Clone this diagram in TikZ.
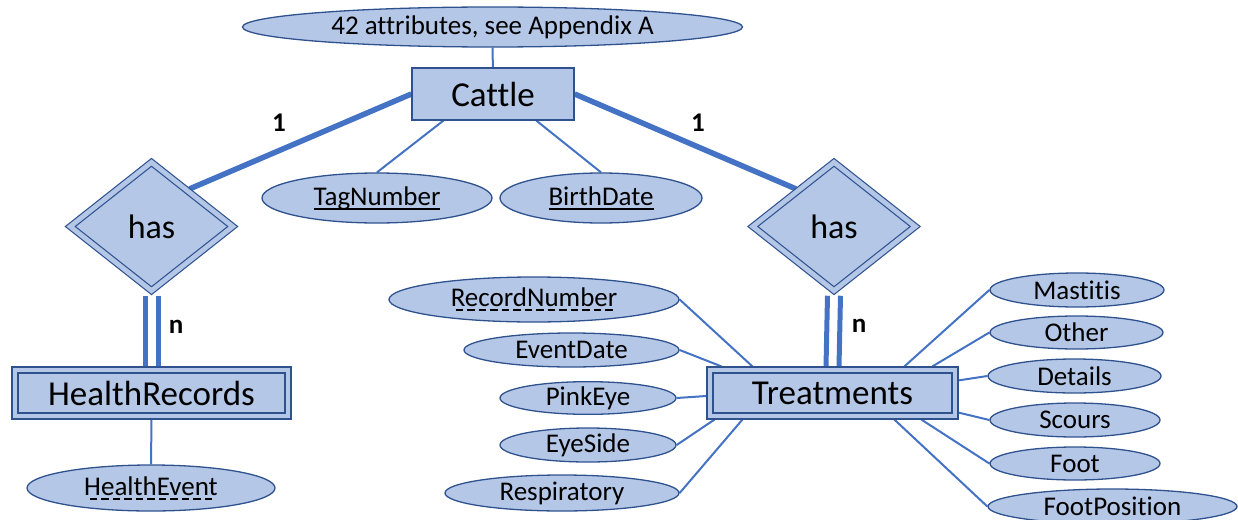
\documentclass[tikz,border=0pt]{standalone}
\usepackage{fontspec}
\setmainfont{Carlito}[Ligatures={NoCommon}]
\usetikzlibrary{shapes.geometric,backgrounds,calc}
\definecolor{fillc}{HTML}{B4C7E7}
\definecolor{bord}{HTML}{2F528F}
\definecolor{conn}{HTML}{4472C4}
\newcommand\ulsolid[1]{\setbox0\hbox{#1}\rlap{\rule[-4.5pt]{\wd0}{1.6pt}}\box0}
\newcommand\uldash[1]{\setbox0\hbox{#1}\rlap{\hbox to \wd0{\cleaders\hbox{\kern2pt\rule[-4.5pt]{7.5pt}{1.8pt}\kern2pt}\hfill}}\box0}
\tikzset{
  attr/.style={ellipse, draw=bord, fill=fillc, line width=1.3pt, inner sep=0pt, font=\fontsize{27}{31}\selectfont},
  entity/.style={rectangle, draw=bord, fill=fillc, line width=1.3pt, inner sep=0pt, font=\fontsize{35}{40}\selectfont},
  weakent/.style={rectangle, draw=bord, fill=fillc, double=fillc, double distance=4.8pt, line width=1.2pt, outer sep=3.6pt, inner sep=0pt, font=\fontsize{35}{40}\selectfont},
  rel/.style={diamond, aspect=1.26, draw=bord, fill=fillc, double=fillc, double distance=4.8pt, line width=1.2pt, outer sep=3.6pt, inner sep=0pt, minimum width=165.4pt, minimum height=131.3pt, font=\fontsize{34}{40}\selectfont},
  thin/.style={draw=conn, line width=2pt},
  thick/.style={draw=conn, line width=5.5pt},
  part/.style={draw=conn, line width=5pt},
  card/.style={font=\bfseries\fontsize{27}{31}\selectfont, inner sep=0pt}
}
\begin{document}
\begin{tikzpicture}[x=1pt,y=-1pt]
\useasboundingbox (0,0) rectangle (1238,519);
% Cattle and its attributes
\node[attr, minimum width=500pt, minimum height=40pt] (top) at (492.5,27) {42 attributes, see Appendix A};
\node[entity, minimum width=162pt, minimum height=52pt] (cattle) at (493,94) {Cattle};
\node[attr, minimum width=230pt, minimum height=50pt] (tag) at (377,198) {\ulsolid{TagNumber}};
\node[attr, minimum width=202pt, minimum height=50pt] (bd) at (601,198) {\ulsolid{BirthDate}};
% relationships
\node[rel] (hasL) at (151.5,226.5) {has};
\node[rel] (hasR) at (834,226.5) {has};
% weak entities
\node[weakent, minimum width=273pt, minimum height=46pt] (hr) at (151.5,393) {HealthRecords};
\node[attr, minimum width=248pt, minimum height=46pt] (he) at (151,488) {\uldash{HealthEvent}};
\node[weakent, minimum width=245pt, minimum height=46pt] (tr) at (832.5,393) {Treatments};
% Treatments attributes (left)
\node[attr, minimum width=290pt, minimum height=45pt] (rn) at (534,299.5) {\uldash{RecordNumber}};
\node[attr, minimum width=215pt, minimum height=34pt] (ed) at (571.5,350) {EventDate};
\node[attr, minimum width=176pt, minimum height=32pt] (pe) at (588,398) {PinkEye};
\node[attr, minimum width=176pt, minimum height=34pt] (es) at (588,445) {EyeSide};
\node[attr, minimum width=234pt, minimum height=36pt] (re) at (562,493) {Respiratory};
% Treatments attributes (right)
\node[attr, minimum width=174pt, minimum height=34pt] (ma) at (1077,290) {Mastitis};
\node[attr, minimum width=173pt, minimum height=33pt] (ot) at (1076.5,332.5) {Other};
\node[attr, minimum width=173pt, minimum height=34pt] (de) at (1074.5,376) {Details};
\node[attr, minimum width=170pt, minimum height=34pt] (sc) at (1075,420) {Scours};
\node[attr, minimum width=170pt, minimum height=33pt] (fo) at (1075,463.5) {Foot};
\node[attr, minimum width=249pt, minimum height=35pt] (fp) at (1112.5,506.5) {FootPosition};
% cardinalities
\node[card] (c1) at (279,123) {1};
\node[card] (c2) at (698,123) {1};
\node[card] (n1) at (176,327) {n};
\node[card] (n2) at (859,326) {n};
% connectors
\begin{scope}[on background layer]
\draw[thin] (top) -- (cattle);
\draw[thin] ([xshift=32pt]cattle.south west) -- (tag.north);
\draw[thin] ([xshift=125pt]cattle.south west) -- (bd.north);
\draw[thick] (cattle.west) -- ($(hasL.north east)+(-5,-3)$);
\draw[thick] (cattle.east) -- ($(hasR.north west)+(5,-3)$);
\draw[part] ([xshift=-6.5pt]hasL.south) -- ([xshift=-6.5pt]hr.north);
\draw[part] ([xshift=6.5pt]hasL.south) -- ([xshift=6.5pt]hr.north);
\draw[part] ([xshift=-6.5pt]hasR.south) -- ([xshift=-6.5pt]tr.north);
\draw[part] ([xshift=6.5pt]hasR.south) -- ([xshift=6.5pt]tr.north);
\draw[thin] (hr.south) -- (he.north);
\draw[thin] (rn.east) -- ([xshift=46pt]tr.north west);
\draw[thin] (ed.east) -- ([xshift=15pt]tr.north west);
\draw[thin] (pe.east) -- ([yshift=-3pt]tr.west);
\draw[thin] (es.east) -- ([xshift=8pt]tr.south west);
\draw[thin] (re.east) -- ([xshift=36pt]tr.south west);
\draw[thin] ([xshift=198pt]tr.north west) -- (ma.west);
\draw[thin] ([xshift=226pt]tr.north west) -- (ot.west);
\draw[thin] ([yshift=-14pt]tr.north east) -- (de.west);
\draw[thin] ([yshift=7pt]tr.south east) -- (sc.west);
\draw[thin] ([xshift=215pt]tr.south west) -- (fo.west);
\draw[thin] ([xshift=188pt]tr.south west) -- (fp.west);
\end{scope}
\end{tikzpicture}
\end{document}
